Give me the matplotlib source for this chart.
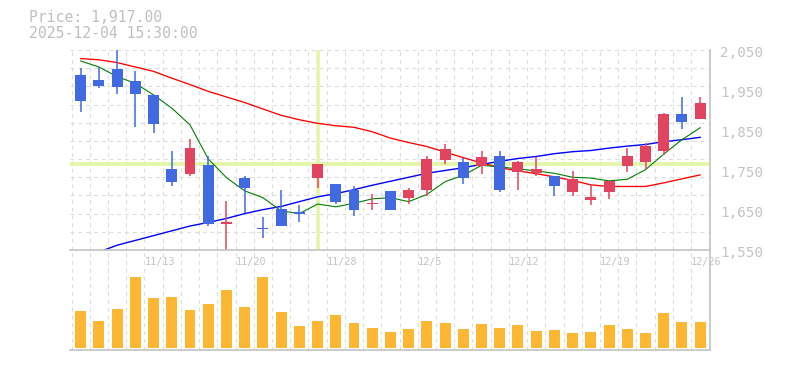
import matplotlib
matplotlib.use('Agg')
import matplotlib.pyplot as plt
import matplotlib.transforms as mtransforms
import numpy as np

dates = ['11/7', '11/10', '11/11', '11/12', '11/13', '11/14', '11/17', '11/18', '11/19', '11/20',
         '11/21', '11/25', '11/26', '11/27', '11/28', '12/1', '12/2', '12/3', '12/4', '12/5',
         '12/8', '12/9', '12/10', '12/11', '12/12', '12/15', '12/16', '12/17', '12/18', '12/19',
         '12/22', '12/23', '12/24', '12/25', '12/26']
label_dates = ['11/13', '11/20', '11/28', '12/5', '12/12', '12/19', '12/26']

opens = [1995, 1983, 2010, 1980, 1945, 1760, 1746, 1770, 1623, 1737, 1612, 1660, 1652, 1738, 1722,
         1706, 1671, 1705, 1686, 1706, 1781, 1777, 1766, 1792, 1753, 1749, 1743, 1703, 1683, 1701,
         1766, 1776, 1805, 1897, 1886]
highs = [2013, 2015, 2057, 2005, 1945, 1805, 1834, 1791, 1680, 1742, 1640, 1707, 1670, 1772, 1722,
         1716, 1697, 1705, 1712, 1791, 1823, 1787, 1805, 1805, 1780, 1789, 1743, 1755, 1722, 1730,
         1812, 1824, 1899, 1941, 1941]
lows = [1903, 1963, 1948, 1866, 1851, 1718, 1741, 1616, 1557, 1649, 1587, 1616, 1628, 1713, 1672,
        1641, 1656, 1658, 1672, 1691, 1772, 1723, 1748, 1703, 1707, 1741, 1693, 1691, 1670, 1685,
        1751, 1760, 1795, 1861, 1886]
closes = [1931, 1968, 1965, 1948, 1873, 1728, 1812, 1623, 1626, 1713, 1609, 1618, 1648, 1772, 1676,
          1656, 1674, 1658, 1707, 1785, 1810, 1736, 1790, 1706, 1777, 1760, 1718, 1735, 1690, 1730,
          1792, 1817, 1897, 1877, 1925]

ma_short = [2030, 2015, 1991, 1974, 1945, 1912, 1870, 1785, 1738, 1705, 1688, 1655, 1648, 1672, 1665,
            1674, 1685, 1688, 1678, 1696, 1728, 1744, 1769, 1765, 1760, 1755, 1749, 1739, 1737, 1730,
            1734, 1758, 1797, 1833, 1863]
ma_mid = [2036, 2033, 2026, 2015, 2004, 1987, 1971, 1954, 1940, 1926, 1910, 1894, 1883, 1874, 1868,
          1864, 1853, 1837, 1826, 1816, 1802, 1788, 1775, 1763, 1755, 1748, 1740, 1731, 1720, 1716,
          1716, 1716, 1725, 1735, 1745]
ma_long = [np.nan, 1552, 1569, 1581, 1593, 1605, 1617, 1626, 1636, 1648, 1658, 1666, 1678, 1690, 1698,
           1708, 1719, 1729, 1739, 1749, 1756, 1763, 1771, 1779, 1786, 1791, 1798, 1803, 1806, 1812,
           1817, 1821, 1828, 1833, 1839]

volumes = [367, 267, 387, 707, 497, 507, 377, 437, 577, 407, 707, 357, 217, 267, 327, 247, 197, 157,
           187, 267, 247, 187, 237, 197, 227, 167, 177, 147, 157, 227, 187, 147, 347, 257, 257]

price_ticks = [1550, 1650, 1750, 1850, 1950, 2050]
cross_index = 13
cross_price = 1772
header_lines = ['Price: 1,917.00', '2025-12-04 15:30:00']

UP = '#e2435f'
DOWN = '#4169e1'
GRID = '#dcdcdc'
SPINE = '#c4c4c4'
TXT = '#c4c4c4'
MONO = 'DejaVu Sans Mono'

n = len(dates)
x = np.arange(n)
o = np.array(opens, float); h = np.array(highs, float)
l = np.array(lows, float); c = np.array(closes, float)

fig = plt.figure(figsize=(7.85, 3.7), dpi=100)
W, H = 785, 370
left, right = 70, 710
axp = fig.add_axes([left / W, 1 - 250 / H, (right - left) / W, 200 / H])
axv = fig.add_axes([left / W, 1 - 350 / H, (right - left) / W, 100 / H])

ymin, ymax = min(lows), max(highs) + 0.5
xlo, xhi = -0.587, 34.54
for ax in (axp, axv):
    ax.set_xlim(xlo, xhi)
    ax.set_xticks([])
    ax.set_yticks([])
    for s in ax.spines.values():
        s.set_color(SPINE)
        s.set_linewidth(1.2)
    ax.spines['left'].set_visible(False)
    ax.set_facecolor('white')
    for gx in np.arange(-0.5, n, 1.0):
        ax.axvline(gx, color=GRID, lw=0.8, ls=(0, (3.5, 3.5)), zorder=0)

axp.spines['top'].set_visible(False)
axp.spines['bottom'].set_visible(False)
axp.set_ylim(ymin, ymax)
for k in range(12):
    axp.axhline(ymin + k * (ymax - ymin) / 11, color=GRID, lw=0.8, ls=(0, (3.5, 3.5)), zorder=0)

# crosshair
axp.axvline(cross_index, ymin=0.008, ymax=0.99, color='#e3f5a6', lw=2.6, zorder=1)
axp.axhline(cross_price, color='#e3f5a6', lw=2.6, zorder=1)

# moving averages
axp.plot(x, ma_mid, color='#ff0000', lw=0.95, zorder=3)
axp.plot(x, ma_long, color='#0000ff', lw=1.0, zorder=3, clip_on=False)
axp.plot(x, ma_short, color='#008000', lw=0.8, zorder=3)

# candles
colors = [UP if cc >= oo else DOWN for oo, cc in zip(o, c)]
body_lo = np.minimum(o, c)
body_h = np.maximum(np.abs(c - o), 3.0)
axp.vlines(x, l, h, colors=colors, lw=1.1, zorder=4)
axp.bar(x, body_h, bottom=body_lo, width=0.6, color=colors, zorder=5, linewidth=0)

# price labels
tr = mtransforms.blended_transform_factory(axp.transAxes, axp.transData)
for v in price_ticks:
    axp.text(1.0 + 10 / (right - left), v, f'{v:,}', transform=tr, ha='left', va='center',
             family=MONO, fontsize=10.3, color=TXT, clip_on=False)

# volume
axv.set_ylim(-23, 977)
axv.bar(x, volumes, width=0.6, color='#fdb733', zorder=2, linewidth=0)
trv = mtransforms.blended_transform_factory(axv.transData, axv.transAxes)
for d in label_dates:
    i = dates.index(d)
    axv.text(i - 0.5, 0.88, d, transform=trv, ha='left', va='center', family=MONO,
             fontsize=7.3, color=TXT, clip_on=False)

# header
fig.text(29 / W, 1 - 18 / H, header_lines[0], family=MONO, fontsize=10.6, color='#c0c0c0',
         ha='left', va='center')
fig.text(29 / W, 1 - 33 / H, header_lines[1], family=MONO, fontsize=10.6, color='#c0c0c0',
         ha='left', va='center')

fig.savefig('out.png', dpi=100, facecolor='white')
